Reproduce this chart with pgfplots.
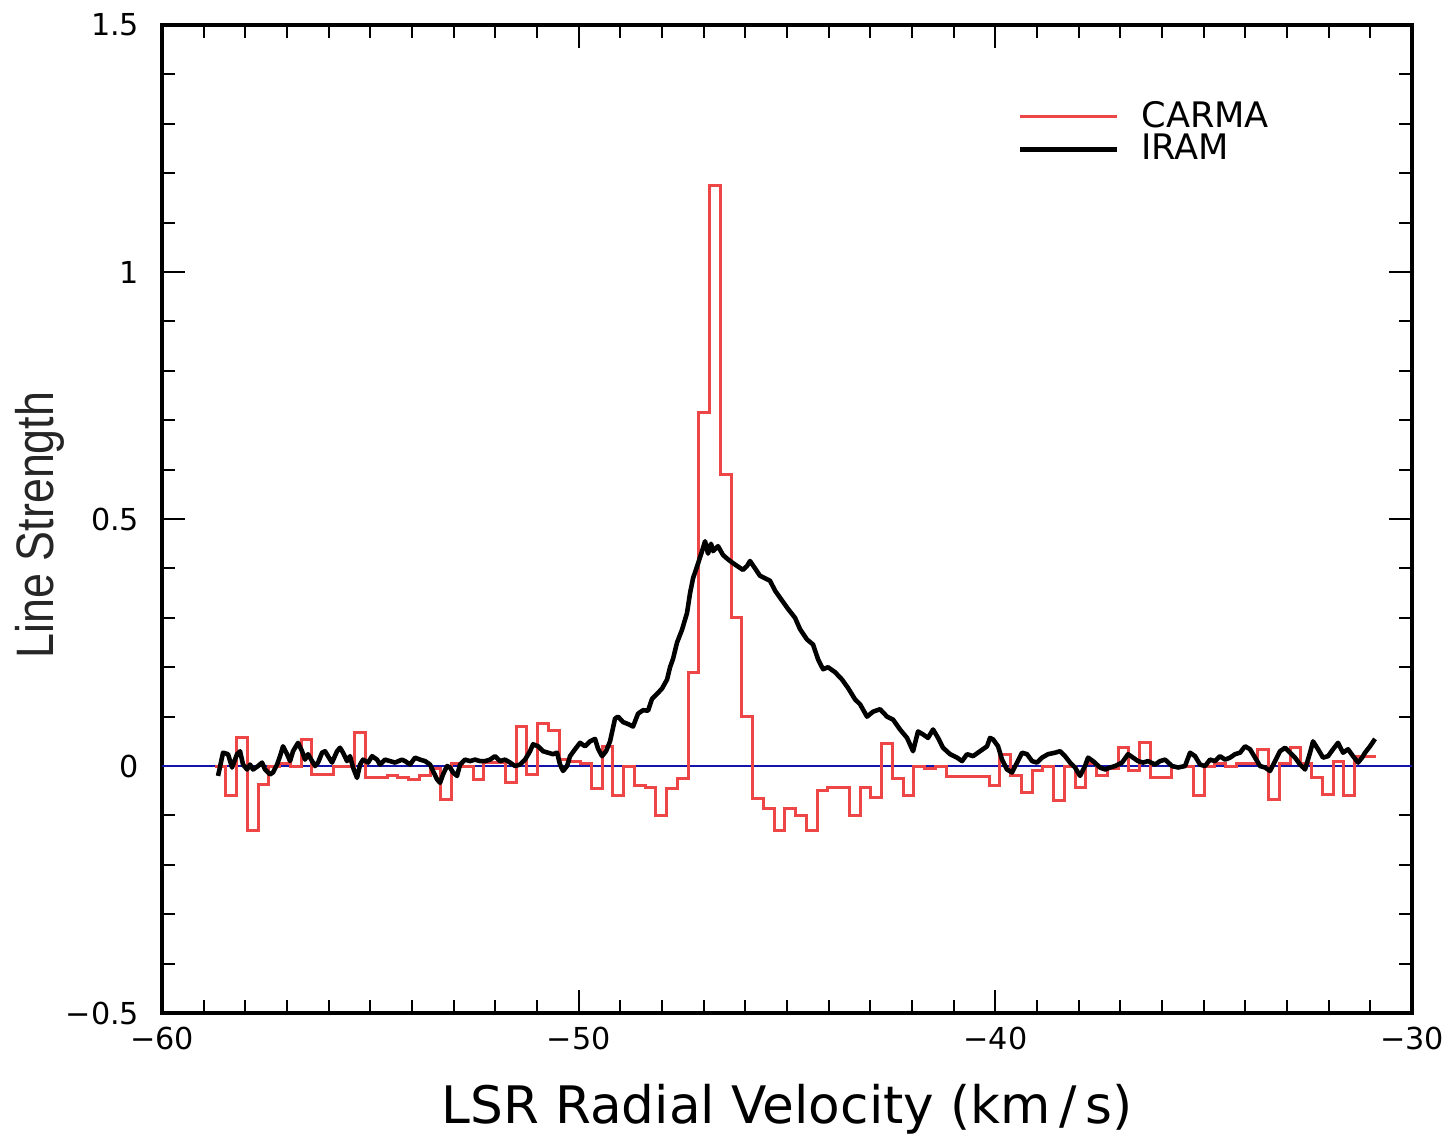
\documentclass[border=0pt]{standalone}
\usepackage{fontspec}
\setmainfont{DejaVu Sans}
\newfontfamily\ylabfont[FakeStretch=0.85]{Liberation Sans}
\usepackage{pgfplots}
\pgfplotsset{compat=1.18}
\definecolor{carmared}{RGB}{238,70,70}
\definecolor{zeroblue}{RGB}{20,20,170}
\begin{document}
\begin{tikzpicture}
\begin{axis}[
 at={(0,0)}, anchor=south west,
 scale only axis, width=355.6pt, height=281.1pt,
 xmin=-60, xmax=-30, ymin=-0.5, ymax=1.5,
 xtick={-60,-50,-40,-30}, xticklabels={−60,−50,−40,−30},
 ytick={-0.5,0,0.5,1,1.5}, yticklabels={−0.5,0,0.5,1,1.5},
 minor xtick={-59,-58,...,-31},
 minor ytick={-0.4,-0.3,-0.2,-0.1,0.1,0.2,0.3,0.4,0.6,0.7,0.8,0.9,1.1,1.2,1.3,1.4},
 tick align=inside, major tick length=6.5pt, minor tick length=3.7pt,
 tick style={line width=0.6pt, black},
 axis line style={line width=0.9pt},
 ticklabel style={font=\fontsize{8.6}{10}\selectfont},
 yticklabel style={xshift=-3pt},
 xticklabel style={inner sep=0pt, yshift=-3.9pt},
 xlabel={LSR Radial Velocity (km\,/\,s)},
 xlabel style={font=\fontsize{14.7}{17}\selectfont, at={(axis description cs:0.5,-0.097)}, anchor=center, inner sep=0pt},
 ylabel={{\ylabfont Line Strength}},
 ylabel style={font=\fontsize{15}{17}\selectfont, text=black!85, at={(axis description cs:-0.0976,0.494)}, anchor=center, inner sep=0pt},
 legend style={at={(rel axis cs:0.684,0.929)}, anchor=north west, draw=none, fill=none,
   font=\fontsize{10}{11}\selectfont, row sep=-2.5pt, inner sep=0pt, nodes={inner sep=1.5pt}},
 legend cell align=left,
 legend image code/.code={\draw[#1] (0pt,0pt) -- (27.6pt,0pt); \path (32.4pt,0pt);},
]
\addplot[zeroblue, line width=0.45pt, forget plot] coordinates {(-60,0) (-30,0)};
\addplot[carmared, line width=0.85pt, const plot] coordinates {
(-58.728,0.0) (-58.470,-0.06) (-58.212,0.057) (-57.954,-0.13) (-57.696,-0.037)
(-57.438,0.0) (-57.180,0.005) (-56.922,0.0) (-56.664,0.054) (-56.406,-0.017)
(-56.148,-0.017) (-55.890,0.0) (-55.632,0.0) (-55.374,0.067) (-55.116,-0.024)
(-54.858,-0.024) (-54.600,-0.02) (-54.342,-0.024) (-54.084,-0.027) (-53.826,-0.02)
(-53.568,-0.005) (-53.310,-0.067) (-53.052,0.005) (-52.794,0.0) (-52.536,-0.027)
(-52.278,0.007) (-52.020,0.007) (-51.762,-0.034) (-51.504,0.081) (-51.246,-0.017)
(-50.988,0.086) (-50.730,0.071) (-50.472,0.013) (-50.214,0.01) (-49.956,0.005)
(-49.698,-0.046) (-49.440,0.04) (-49.182,-0.06) (-48.924,0.0) (-48.666,-0.04)
(-48.408,-0.043) (-48.150,-0.10) (-47.892,-0.046) (-47.634,-0.026) (-47.376,0.19)
(-47.118,0.715) (-46.860,1.176) (-46.602,0.59) (-46.344,0.30) (-46.086,0.10)
(-45.828,-0.065) (-45.570,-0.086) (-45.312,-0.13) (-45.054,-0.086) (-44.796,-0.10)
(-44.538,-0.13) (-44.280,-0.05) (-44.022,-0.043) (-43.764,-0.043) (-43.506,-0.10)
(-43.248,-0.043) (-42.990,-0.063) (-42.732,0.045) (-42.474,-0.026) (-42.216,-0.06)
(-41.958,0.0) (-41.700,-0.005) (-41.442,0.0) (-41.184,-0.022) (-40.926,-0.022)
(-40.668,-0.022) (-40.410,-0.022) (-40.152,-0.04) (-39.894,0.024) (-39.636,-0.02)
(-39.378,-0.054) (-39.120,-0.01) (-38.862,0.0) (-38.604,-0.07) (-38.346,0.0)
(-38.088,-0.044) (-37.830,0.005) (-37.572,-0.02) (-37.314,-0.005) (-37.056,0.037)
(-36.798,-0.01) (-36.540,0.047) (-36.282,-0.024) (-36.024,-0.024) (-35.766,0.0)
(-35.508,0.0) (-35.250,-0.06) (-34.992,0.0) (-34.734,0.005) (-34.476,0.0)
(-34.218,0.005) (-33.960,0.005) (-33.702,0.034) (-33.444,-0.067) (-33.186,0.005)
(-32.928,0.037) (-32.670,0.005) (-32.412,-0.024) (-32.154,-0.057) (-31.896,0.01)
(-31.638,-0.06) (-31.380,0.02) (-31.122,0.02) (-30.864,0.02)
};
\addlegendentry{CARMA}
\addplot[black, line width=1.3pt, line join=round] coordinates {
(-58.656,-0.02) (-58.536,0.027) (-58.416,0.024) (-58.32,-0.003) (-58.2,0.024)
(-58.128,0.03) (-58.056,0.003) (-57.96,-0.007) (-57.888,0.003) (-57.816,-0.007)
(-57.696,0.0) (-57.6,0.007) (-57.528,-0.007) (-57.408,-0.017) (-57.336,-0.013)
(-57.24,0.003) (-57.168,0.02) (-57.096,0.04) (-57.0,0.024) (-56.928,0.01)
(-56.856,0.03) (-56.736,0.047) (-56.64,0.03) (-56.568,0.013) (-56.496,0.024)
(-56.4,0.01) (-56.328,0.0) (-56.256,0.007) (-56.16,0.027) (-56.088,0.03)
(-56.016,0.02) (-55.92,0.007) (-55.8,0.03) (-55.728,0.037) (-55.656,0.027)
(-55.56,0.01) (-55.488,0.02) (-55.416,-0.003) (-55.32,-0.024) (-55.248,0.003)
(-55.176,0.013) (-55.056,0.007) (-54.96,0.02) (-54.84,0.013) (-54.768,0.003)
(-54.648,0.013) (-54.528,0.01) (-54.408,0.007) (-54.24,0.013) (-54.168,0.01)
(-54.048,0.003) (-53.928,0.017) (-53.808,0.013) (-53.688,0.01) (-53.568,0.003)
(-53.496,-0.01) (-53.4,-0.027) (-53.328,-0.034) (-53.256,-0.017) (-53.16,0.0)
(-53.088,-0.003) (-53.016,-0.013) (-52.92,-0.02) (-52.848,0.003) (-52.728,0.013)
(-52.608,0.01) (-52.488,0.013) (-52.368,0.01) (-52.248,0.01) (-52.128,0.013)
(-52.008,0.02) (-51.888,0.01) (-51.768,0.013) (-51.648,0.007) (-51.528,0.0)
(-51.408,0.003) (-51.288,0.013) (-51.168,0.03) (-51.096,0.044) (-50.976,0.04)
(-50.856,0.03) (-50.736,0.027) (-50.616,0.024) (-50.52,0.027) (-50.448,0.003)
(-50.376,-0.01) (-50.28,0.0) (-50.208,0.02) (-50.088,0.034) (-49.968,0.047)
(-49.848,0.04) (-49.728,0.05) (-49.608,0.055) (-49.536,0.035) (-49.44,0.02)
(-49.344,0.03) (-49.248,0.05) (-49.128,0.096) (-49.056,0.1) (-48.936,0.089)
(-48.816,0.085) (-48.696,0.08) (-48.576,0.106) (-48.456,0.113) (-48.336,0.112)
(-48.24,0.136) (-48.12,0.146) (-48.0,0.157) (-47.88,0.175) (-47.808,0.2)
(-47.736,0.217) (-47.64,0.25) (-47.52,0.276) (-47.4,0.31) (-47.328,0.35)
(-47.256,0.38) (-47.136,0.41) (-47.04,0.435) (-46.968,0.455) (-46.896,0.43)
(-46.824,0.45) (-46.776,0.435) (-46.656,0.445) (-46.536,0.427) (-46.44,0.42)
(-46.368,0.415) (-46.2,0.405) (-46.056,0.397) (-45.96,0.405) (-45.888,0.415)
(-45.768,0.40) (-45.648,0.385) (-45.528,0.38) (-45.408,0.375) (-45.288,0.355)
(-45.12,0.335) (-44.976,0.318) (-44.808,0.30) (-44.688,0.277) (-44.52,0.256)
(-44.376,0.246) (-44.256,0.216) (-44.136,0.196) (-44.016,0.2) (-43.848,0.19)
(-43.68,0.175) (-43.536,0.158) (-43.368,0.135) (-43.248,0.125) (-43.08,0.10)
(-42.936,0.11) (-42.768,0.115) (-42.6,0.10) (-42.456,0.094) (-42.288,0.074)
(-42.12,0.057) (-41.976,0.03) (-41.856,0.07) (-41.736,0.064) (-41.616,0.057)
(-41.496,0.074) (-41.376,0.057) (-41.256,0.037) (-41.088,0.024) (-40.92,0.017)
(-40.8,0.01) (-40.68,0.024) (-40.536,0.02) (-40.368,0.03) (-40.2,0.04)
(-40.128,0.057) (-40.056,0.054) (-39.936,0.04) (-39.84,0.013) (-39.72,-0.007)
(-39.6,-0.013) (-39.48,0.007) (-39.36,0.027) (-39.24,0.024) (-39.12,0.01)
(-39.0,0.007) (-38.88,0.017) (-38.736,0.024) (-38.568,0.027) (-38.448,0.03)
(-38.328,0.02) (-38.208,0.007) (-38.088,-0.003) (-37.968,-0.02) (-37.848,0.0)
(-37.776,0.017) (-37.656,0.01) (-37.488,-0.003) (-37.368,-0.007) (-37.248,-0.003)
(-37.128,0.0) (-36.96,0.007) (-36.816,0.024) (-36.696,0.017) (-36.576,0.01)
(-36.456,0.007) (-36.336,0.01) (-36.168,0.003) (-36.048,0.01) (-35.928,0.013)
(-35.76,0.0) (-35.616,-0.003) (-35.448,0.0) (-35.328,0.027) (-35.208,0.02)
(-35.088,0.003) (-34.968,0.0) (-34.848,0.013) (-34.728,0.01) (-34.608,0.02)
(-34.488,0.013) (-34.368,0.017) (-34.248,0.024) (-34.128,0.027) (-34.008,0.04)
(-33.888,0.034) (-33.768,0.017) (-33.648,0.0) (-33.528,-0.003) (-33.408,-0.01)
(-33.288,0.01) (-33.168,0.03) (-33.048,0.037) (-32.928,0.027) (-32.808,0.017)
(-32.688,0.003) (-32.568,-0.007) (-32.448,0.027) (-32.376,0.05) (-32.256,0.034)
(-32.136,0.017) (-32.016,0.02) (-31.896,0.034) (-31.776,0.047) (-31.656,0.027)
(-31.536,0.034) (-31.416,0.02) (-31.296,0.007) (-31.2,0.017) (-31.128,0.027)
(-31.008,0.04) (-30.888,0.055)
};
\addlegendentry{IRAM}
\end{axis}
\path (-46.1pt,-35.6pt) rectangle (366.4pt,288.2pt);
\end{tikzpicture}
\end{document}
